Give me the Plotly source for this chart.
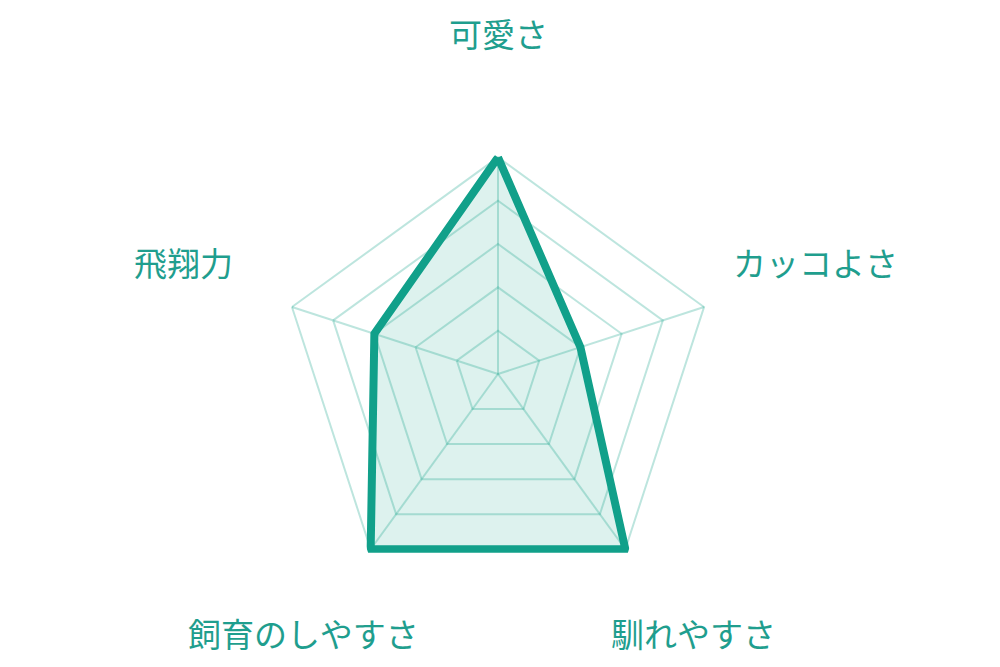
import plotly.graph_objects as go

# radar chart: one bird's scores on five traits
categories = ["可愛さ", "カッコよさ", "馴れやすさ", "飼育のしやすさ", "飛翔力"]
scores = [5, 2, 5, 5, 3]
scale_max = 5

# where each trait label sits (paper coords)
label_x = [0.490, 0.807, 0.685, 0.295, 0.175]
label_y = [0.963, 0.619, 0.063, 0.063, 0.619]

line_color = "#11a08a"
grid_color = "rgba(17,160,138,0.28)"
text_color = "#1f9e8e"

fig = go.Figure()

# spokes, drawn as traces so they stop at the outer ring
for cat in categories:
    fig.add_trace(go.Scatterpolar(
        r=[0, scale_max], theta=[cat, cat], mode="lines",
        line=dict(color=grid_color, width=2), hoverinfo="skip",
    ))

fig.add_trace(go.Scatterpolar(
    r=scores + scores[:1],
    theta=categories + categories[:1],
    mode="lines",
    fill="toself",
    fillcolor="rgba(17,160,138,0.14)",
    line=dict(color=line_color, width=8),
    cliponaxis=False,
    hoverinfo="skip",
))

fig.update_layout(
    width=1000, height=667,
    margin=dict(l=0, r=0, t=0, b=0),
    paper_bgcolor="white",
    showlegend=False,
    font=dict(family="Noto Sans CJK JP", color=text_color),
    polar=dict(
        domain=dict(x=[0.269, 0.711], y=[0.12, 0.7826]),
        bgcolor="rgba(0,0,0,0)",
        gridshape="linear",
        # a little headroom past 5 so the thick outline isn't clipped
        radialaxis=dict(range=[0, scale_max * 1.02], tickvals=list(range(1, scale_max + 1)),
                        showticklabels=False, ticks="", showline=False,
                        gridcolor=grid_color, gridwidth=1.5),
        angularaxis=dict(rotation=90, direction="clockwise", showticklabels=False,
                         ticks="", showline=False, showgrid=False),
    ),
)

for name, x, y in zip(categories, label_x, label_y):
    fig.add_annotation(text=name, x=x, y=y, xref="paper", yref="paper",
                       xanchor="center", yanchor="middle", showarrow=False,
                       font=dict(size=33, color=text_color))

fig.write_html("out.html")
